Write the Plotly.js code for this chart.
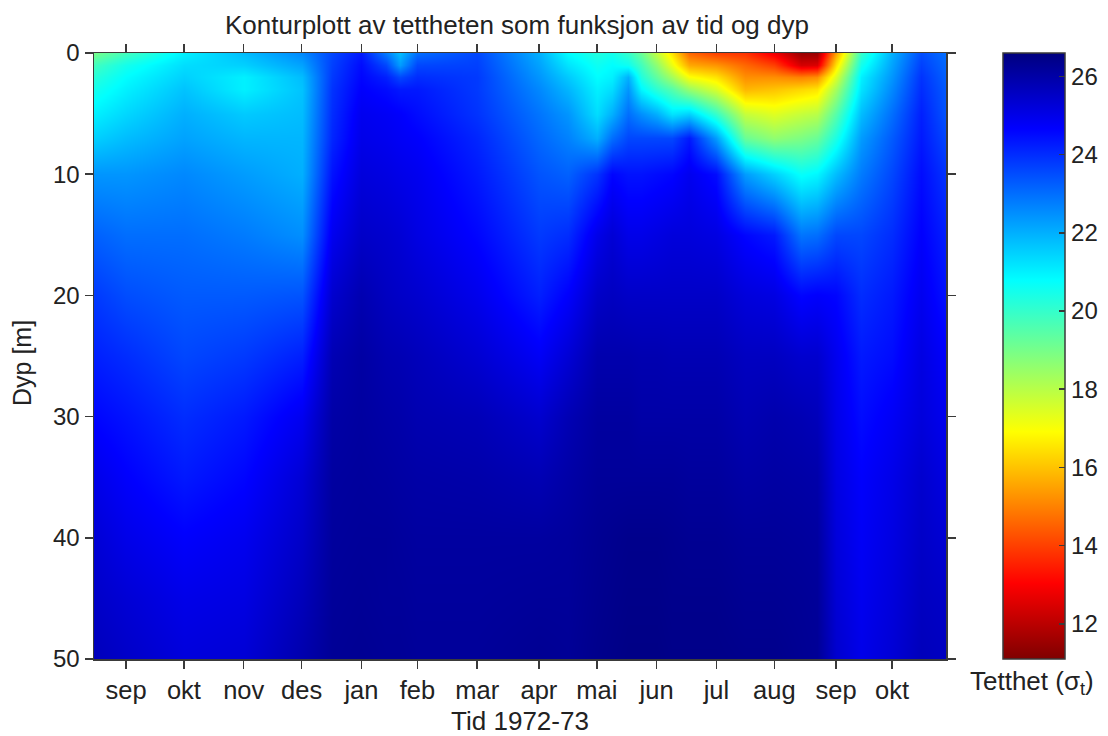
<!DOCTYPE html>
<html><head><meta charset="utf-8">
<script src="https://cdn.plot.ly/plotly-3.0.1.min.js"></script>
<style>html,body{margin:0;padding:0;background:#fff}</style></head>
<body><div id="chart" style="width:1108px;height:736px"></div>
<script>
const monthLabels = ['sep','okt','nov','des','jan','feb','mar','apr','mai','jun','jul','aug','sep','okt'];
const monthDays = [0,30,61,91,122,151,182,214,244,275,306,336,368,397];
const depths = [0,1,2,3,5,7,10,15,20,25,30,35,40,45,50];
const days = [-16.6,0,30,61,91,107,122,135,142,151,182,214,229,244,252,260,267,275,283,292,306,321,336,350,358,368,381,397,412,425];
const sigma = [
 [19.0,19.8,20.2,20.5,21.0,21.5,22.4,23.2,23.8,24.2,24.6,25.0,25.3,25.5,25.7],
 [19.8,20.5,20.8,21.0,21.4,21.8,22.4,23.0,23.5,24.0,24.4,24.7,25.0,25.3,25.5],
 [21.0,21.3,21.5,21.7,22.0,22.2,22.6,23.0,23.3,23.6,24.0,24.3,24.7,25.0,25.2],
 [21.8,21.5,21.0,21.0,21.6,21.9,22.3,22.8,23.3,23.8,24.3,24.6,24.9,25.1,25.3],
 [22.6,22.2,21.8,21.7,21.8,21.9,22.0,22.5,23.4,24.2,24.9,25.3,25.5,25.7,25.9],
 [23.6,23.7,23.8,23.9,24.0,24.1,24.4,24.9,25.4,25.8,26.0,26.1,26.15,26.2,26.25],
 [24.3,24.5,24.6,24.7,24.9,25.0,25.2,25.5,25.85,26.05,26.1,26.15,26.2,26.25,26.3],
 [22.8,23.6,24.2,24.5,24.8,24.9,25.1,25.4,25.6,25.85,26.0,26.1,26.2,26.2,26.25],
 [21.8,22.3,23.6,24.3,24.7,24.8,25.0,25.3,25.5,25.8,25.95,26.05,26.15,26.2,26.25],
 [23.0,23.6,24.0,24.3,24.5,24.7,24.9,25.1,25.4,25.7,25.85,26.0,26.1,26.15,26.2],
 [23.6,23.7,23.8,23.8,23.9,24.1,24.3,24.6,24.95,25.35,25.75,25.95,26.1,26.15,26.2],
 [22.0,22.2,22.4,22.6,22.9,23.1,23.4,23.8,24.2,24.8,25.4,25.8,26.1,26.2,26.3],
 [20.8,21.2,21.6,21.9,22.4,22.7,23.2,24.0,24.7,25.3,25.8,26.0,26.15,26.2,26.25],
 [20.3,20.6,20.8,21.0,21.3,22.0,23.9,25.0,25.5,25.9,26.1,26.2,26.3,26.35,26.4],
 [20.5,20.8,21.0,21.3,22.0,23.0,24.6,25.3,25.6,25.9,26.1,26.2,26.35,26.4,26.45],
 [20.0,20.6,22.0,22.4,23.0,23.6,24.4,25.0,25.5,25.9,26.1,26.2,26.4,26.45,26.5],
 [19.2,19.8,20.3,20.9,22.5,23.6,24.4,25.0,25.5,25.85,26.0,26.2,26.4,26.45,26.5],
 [17.8,18.6,19.3,20.1,22.0,23.6,24.5,25.1,25.5,25.85,26.0,26.2,26.4,26.45,26.5],
 [16.5,17.2,18.3,19.5,21.2,23.6,24.6,25.2,25.5,25.8,26.0,26.2,26.35,26.4,26.45],
 [14.6,15.6,17.0,18.5,21.5,24.3,24.9,25.2,25.5,25.8,26.0,26.15,26.3,26.4,26.45],
 [14.0,15.3,16.5,17.5,20.0,22.3,24.5,25.1,25.5,25.8,26.0,26.15,26.3,26.4,26.45],
 [13.8,14.6,15.2,15.8,17.8,19.2,22.3,24.6,25.2,25.6,25.8,26.0,26.2,26.3,26.4],
 [12.8,14.0,15.2,16.0,17.4,18.6,21.5,24.3,25.1,25.6,25.9,26.05,26.2,26.3,26.4],
 [11.5,12.4,15.0,16.3,17.8,18.9,20.7,22.9,24.6,25.4,25.8,26.0,26.15,26.25,26.3],
 [11.5,12.5,15.2,16.5,18.0,19.2,20.9,23.0,24.7,25.4,25.7,25.95,26.1,26.2,26.25],
 [15.5,16.5,17.5,18.3,19.5,20.4,21.8,23.6,24.6,24.9,25.0,25.1,25.2,25.3,25.4],
 [20.0,20.5,21.0,21.2,21.8,22.3,22.8,23.6,24.0,24.3,24.5,24.7,24.8,24.9,25.0],
 [22.0,22.2,22.4,22.6,23.0,23.3,23.6,24.0,24.3,24.5,24.8,25.0,25.1,25.2,25.3],
 [23.5,23.7,23.9,24.0,24.2,24.3,24.5,24.7,24.9,25.1,25.2,25.4,25.5,25.6,25.7],
 [23.0,23.1,23.2,23.3,23.4,23.6,23.9,24.2,24.4,24.7,24.9,25.1,25.3,25.5,25.6]
];
const sigmaMin = 11.1, sigmaMax = 26.6;
const barTicks = [12,14,16,18,20,22,24,26];
const jetReversed = [[0,'#7f0000'],[0.125,'#ff0000'],[0.25,'#ff8000'],[0.375,'#ffff00'],[0.5,'#80ff80'],[0.625,'#00ffff'],[0.75,'#0080ff'],[0.875,'#0000ff'],[1,'#00007f']];
const ink = '#222222', frame = '#3a3a3a', fontFamily = 'Liberation Sans, Arial, sans-serif';

const barLeftTicks = barTicks.map(v => ({
  type:'line', xref:'paper', yref:'paper', x0:1.0669, x1:1.0739,
  y0:(v-sigmaMin)/(sigmaMax-sigmaMin), y1:(v-sigmaMin)/(sigmaMax-sigmaMin),
  line:{color:frame,width:1.5}
}));

Plotly.newPlot('chart',[{
  type:'heatmap', x:days, y:depths, z:sigma, transpose:true, zsmooth:'best',
  zmin:sigmaMin, zmax:sigmaMax, colorscale:jetReversed,
  colorbar:{
    x:1003/1108, xref:'container', xanchor:'left', thickness:62, thicknessmode:'pixels',
    len:1, lenmode:'fraction', y:0, yanchor:'bottom', yref:'paper', ypad:0, xpad:0,
    tickmode:'array', tickvals:barTicks, ticks:'inside', ticklen:6, tickwidth:1.5, tickcolor:frame,
    outlinewidth:1.5, outlinecolor:frame, tickfont:{family:fontFamily,size:24,color:ink}
  }
}],{
  width:1108, height:736, autosize:false, paper_bgcolor:'#fff', plot_bgcolor:'#fff',
  margin:{l:94,r:162,t:53,b:77,pad:0},
  font:{family:fontFamily,color:ink},
  title:{text:'Konturplott av tettheten som funksjon av tid og dyp',font:{size:26,color:ink,family:fontFamily},
    x:517/1108,xanchor:'center',xref:'container',y:1-25/736,yanchor:'middle'},
  xaxis:{range:[-16.6,425],tickmode:'array',tickvals:monthDays,ticktext:monthLabels,ticks:'outside',ticklen:8,tickwidth:1.5,tickcolor:frame,
    showline:true,linecolor:frame,linewidth:1.5,mirror:'allticks',showgrid:false,zeroline:false,
    tickfont:{size:25.5,color:ink},title:{text:'Tid 1972-73',font:{size:26,color:ink},standoff:14}},
  yaxis:{range:[50,0],tickmode:'array',tickvals:[0,10,20,30,40,50],ticks:'outside',ticklen:8,tickwidth:1.5,tickcolor:frame,
    showline:true,linecolor:frame,linewidth:1.5,mirror:'allticks',showgrid:false,zeroline:false,
    tickfont:{size:24,color:ink}},
  shapes:barLeftTicks,
  annotations:[
    {text:'Dyp [m]',textangle:-90,xref:'paper',yref:'paper',x:(22-94)/852,y:(659-363)/606,xanchor:'center',yanchor:'middle',showarrow:false,font:{size:25,color:ink,family:fontFamily}},
    {text:'Tetthet (σ<sub>t</sub>)',xref:'paper',yref:'paper',x:1.1009,y:-0.038,xanchor:'center',yanchor:'middle',showarrow:false,font:{size:26,color:ink,family:fontFamily}}
  ]
},{displayModeBar:false,staticPlot:true});
</script></body></html>
